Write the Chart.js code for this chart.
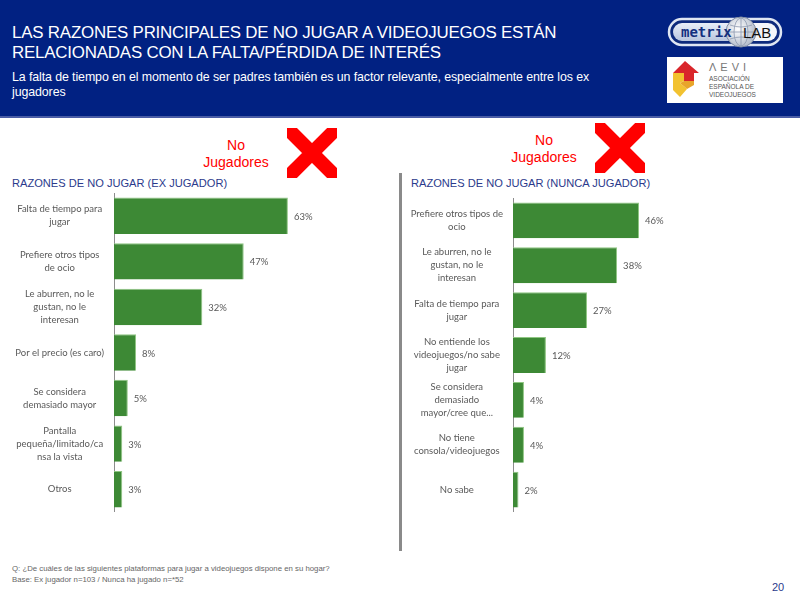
<!DOCTYPE html>
<html>
<head>
<meta charset="utf-8">
<script src="https://cdn.jsdelivr.net/npm/chart.js@4.4.1/dist/chart.umd.min.js"></script>
<style>
  html, body { margin: 0; padding: 0; width: 800px; height: 600px; background: #fff; overflow: hidden; }
  body { position: relative; font-family: "Liberation Sans", Arial, sans-serif; }
  .abs { position: absolute; }
  #header { left: 0; top: 0; width: 800px; height: 116px; background: #012182; border-bottom: 2px solid #4a5da6; }
  #title { left: 12px; top: 23px; color: #fff; font-size: 16.9px; line-height: 20px; letter-spacing: -0.2px; }
  #subtitle { left: 12px; top: 70px; color: #fff; font-size: 12.4px; line-height: 15px; width: 600px; letter-spacing: -0.1px; }
  .sect { color: #2b3a8c; font-size: 11.1px; letter-spacing: 0px; }
  .nojug { color: #ff0000; font-size: 14px; line-height: 17px; text-align: center; width: 90px; }
  #sep { left: 399px; top: 173px; width: 3px; height: 378px; background: #8a8a8a; }
  .foot { color: #666; font-size: 7.8px; left: 12px; }
  #page { left: 772px; top: 581px; color: #2b3a8c; font-size: 11px; }
</style>
</head>
<body>
<script>
// ---- Data ----
const exCategories = [
  ["Falta de tiempo para", "jugar"],
  ["Prefiere otros tipos", "de ocio"],
  ["Le aburren, no le", "gustan, no le", "interesan"],
  "Por el precio (es caro)",
  ["Se considera", "demasiado mayor"],
  ["Pantalla", "pequeña/limitado/ca", "nsa la vista"],
  "Otros"
];
const exValues = [63, 47, 32, 8, 5, 3, 3];

const nuncaCategories = [
  ["Prefiere otros tipos de", "ocio"],
  ["Le aburren, no le", "gustan, no le", "interesan"],
  ["Falta de tiempo para", "jugar"],
  ["No entiende los", "videojuegos/no sabe", "jugar"],
  ["Se considera", "demasiado", "mayor/cree que..."],
  ["No tiene", "consola/videojuegos"],
  "No sabe"
];
const nuncaValues = [46, 38, 27, 12, 4, 4, 2];

const titleLines = ["LAS RAZONES PRINCIPALES DE NO JUGAR A VIDEOJUEGOS ESTÁN", "RELACIONADAS CON LA FALTA/PÉRDIDA DE INTERÉS"];
const subtitleText = "La falta de tiempo en el momento de ser padres también es un factor relevante, especialmente entre los ex jugadores";
const sectionTitles = ["RAZONES DE NO JUGAR (EX JUGADOR)", "RAZONES DE NO JUGAR (NUNCA JUGADOR)"];
const footLines = ["Q:  ¿De cuáles de las siguientes plataformas para jugar a videojuegos dispone en su hogar?", "Base:  Ex jugador n=103 / Nunca ha jugado n=*52"];
</script>

<div id="header" class="abs"></div>
<div id="title" class="abs"></div>
<div id="subtitle" class="abs"></div>

<!-- metrixLAB logo -->
<svg class="abs" style="left:666px;top:14px" width="120" height="36" viewBox="0 0 120 36">
  <defs>
    <linearGradient id="pg" x1="0" y1="0" x2="0" y2="1">
      <stop offset="0" stop-color="#e8eef8"/><stop offset="1" stop-color="#b9c6de"/>
    </linearGradient>
    <radialGradient id="gg" cx="0.4" cy="0.4" r="0.7">
      <stop offset="0" stop-color="#ffffff"/><stop offset="1" stop-color="#aab4c4"/>
    </radialGradient>
  </defs>
  <rect x="3" y="5" width="112" height="26" rx="13" fill="#0d2a7c" stroke="#dfe6f2" stroke-width="2.5"/>
  <rect x="7" y="9" width="68" height="18" rx="9" fill="url(#pg)"/>
  <rect x="70" y="9" width="41" height="18" rx="9" fill="#f4f6fa"/>
  <circle cx="75" cy="18" r="15" fill="url(#gg)" stroke="#7d8aa3" stroke-width="1"/>
  <path d="M62 18 H88 M75 4 V32 M64 11 Q75 15 86 11 M64 25 Q75 21 86 25" stroke="#8c98ae" stroke-width="0.8" fill="none"/>
  <ellipse cx="75" cy="18" rx="7" ry="14" stroke="#8c98ae" stroke-width="0.8" fill="none"/>
  <text x="15" y="23" font-family="DejaVu Sans Mono" font-size="14" font-weight="bold" fill="#13307f">metrix</text>
  <text x="77" y="24" font-family="Liberation Sans" font-size="15" fill="#111">LAB</text>
</svg>

<!-- AEVI logo -->
<svg class="abs" style="left:667px;top:57px" width="116" height="46" viewBox="0 0 116 46">
  <rect x="0" y="0" width="116" height="46" fill="#ffffff"/>
  <polygon points="6,16 18,4 32,16 27,16 27,24 17,24 17,16" fill="#d9262b"/>
  <polygon points="6,16 17,16 17,24 13,26 20,32 13,40 6,33" fill="#f2c230"/>
  <polygon points="17,24 27,24 27,28 20,32 13,26" fill="#e8a52a"/>
  <text x="42" y="14" font-family="Liberation Sans" font-size="11" fill="#777" letter-spacing="4">ΛEVI</text>
  <text x="42" y="24" font-family="Liberation Sans Narrow, Liberation Sans" font-size="6.5" fill="#555">ASOCIACIÓN</text>
  <text x="42" y="32" font-family="Liberation Sans Narrow, Liberation Sans" font-size="6.5" fill="#555">ESPAÑOLA DE</text>
  <text x="42" y="40" font-family="Liberation Sans Narrow, Liberation Sans" font-size="6.5" fill="#555">VIDEOJUEGOS</text>
</svg>

<!-- No Jugadores labels and X marks -->
<div class="abs nojug" style="left:191px;top:137px">No<br>Jugadores</div>
<svg class="abs" style="left:287px;top:128px" width="50" height="50" viewBox="0 0 50 50">
  <path d="M5 5 L45 45 M45 5 L5 45" stroke="#ff0000" stroke-width="14" stroke-linecap="square"/>
</svg>
<div class="abs nojug" style="left:499px;top:132px">No<br>Jugadores</div>
<svg class="abs" style="left:595px;top:123px" width="50" height="50" viewBox="0 0 50 50">
  <path d="M5 5 L45 45 M45 5 L5 45" stroke="#ff0000" stroke-width="14" stroke-linecap="square"/>
</svg>

<div id="sect1" class="abs sect" style="left:12px;top:177px"></div>
<div id="sect2" class="abs sect" style="left:411px;top:177px"></div>

<div id="sep" class="abs"></div>

<div class="abs" style="left:0;top:193px;width:400px;height:319px"><canvas id="c1" width="400" height="319"></canvas></div>
<div class="abs" style="left:400px;top:198px;width:400px;height:314px"><canvas id="c2" width="400" height="314"></canvas></div>

<div id="foot1" class="abs foot" style="top:564px"></div>
<div id="foot2" class="abs foot" style="top:575px"></div>
<div id="page" class="abs">20</div>

<script>
document.getElementById('title').innerHTML = titleLines.join('<br>');
document.getElementById('subtitle').textContent = subtitleText;
document.getElementById('sect1').textContent = sectionTitles[0];
document.getElementById('sect2').textContent = sectionTitles[1];
document.getElementById('foot1').textContent = footLines[0];
document.getElementById('foot2').textContent = footLines[1];

const valueLabels = {
  id: 'valueLabels',
  afterDatasetsDraw(chart) {
    const ctx = chart.ctx;
    const meta = chart.getDatasetMeta(0);
    ctx.save();
    ctx.font = '9.5px Lato, sans-serif';
    ctx.fillStyle = '#595959';
    ctx.textAlign = 'left';
    ctx.textBaseline = 'middle';
    meta.data.forEach((bar, i) => {
      const v = chart.data.datasets[0].data[i];
      ctx.fillText(v + '%', bar.x + 6, bar.y + 1);
    });
    ctx.restore();
  }
};

function makeChart(id, labels, values, axisWidth, padRight) {
  return new Chart(document.getElementById(id), {
    type: 'bar',
    data: {
      labels: labels,
      datasets: [{
        data: values,
        backgroundColor: '#3d8935',
        borderColor: '#8fc682',
        borderWidth: { top: 1, right: 1, bottom: 0, left: 0 },
        borderSkipped: 'start',
        categoryPercentage: 0.8,
        barPercentage: 1.0
      }]
    },
    options: {
      indexAxis: 'y',
      responsive: false,
      animation: false,
      layout: { padding: { top: 0, bottom: 0, left: 0, right: padRight } },
      plugins: { legend: { display: false }, tooltip: { enabled: false } },
      scales: {
        x: { display: false, min: 0, max: 100 },
        y: {
          grid: { display: false, drawTicks: false },
          border: { display: true, color: '#8c8c8c', width: 1 },
          ticks: {
            color: '#595959',
            font: { family: 'Lato, sans-serif', size: 9.5, lineHeight: 1.37 },
            padding: 10,
            crossAlign: 'center'
          },
          afterFit(scale) {
            scale.width = axisWidth;
            scale.paddingTop = 0;
            scale.paddingBottom = 0;
          }
        }
      }
    },
    plugins: [valueLabels]
  });
}

makeChart('c1', exCategories, exValues, 114, 10);
makeChart('c2', nuncaCategories, nuncaValues, 113, 13);
</script>
</body>
</html>
